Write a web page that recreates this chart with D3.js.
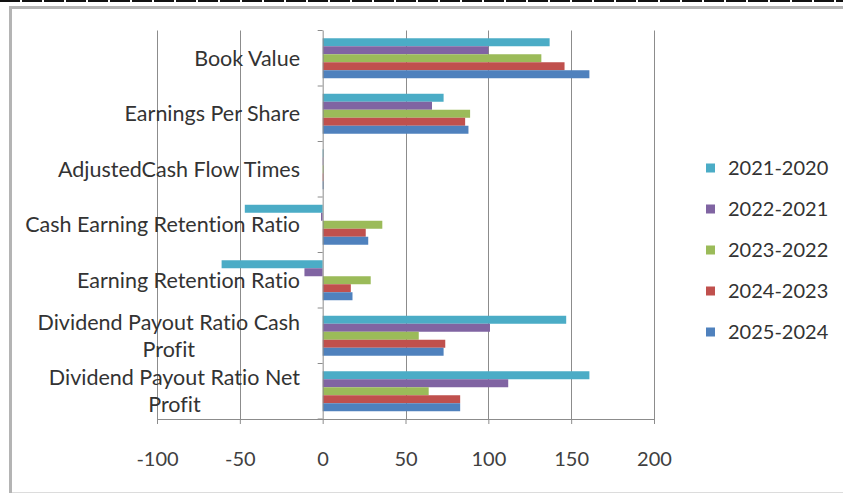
<!DOCTYPE html>
<html>
<head>
<meta charset="utf-8">
<script src="https://cdn.jsdelivr.net/npm/d3@7/dist/d3.min.js"></script>
<style>
  html, body { margin: 0; padding: 0; background: #fff; }
  svg { display: block; }
  text { font-family: Lato, "Open Sans", sans-serif; font-variant-ligatures: none; }
</style>
</head>
<body>
<svg id="chart" width="843" height="493"></svg>
<script>
// Financial ratios, one value per category for each period
const categories = [
  "Book Value",
  "Earnings Per Share",
  "AdjustedCash Flow Times",
  "Cash Earning Retention Ratio",
  "Earning Retention Ratio",
  "Dividend Payout Ratio Cash Profit",
  "Dividend Payout Ratio Net Profit"
];
// Wrapped label lines for the long category names
const labelLines = [
  ["Book Value"],
  ["Earnings Per Share"],
  ["AdjustedCash Flow Times"],
  ["Cash Earning Retention Ratio"],
  ["Earning Retention Ratio"],
  ["Dividend Payout Ratio Cash", "Profit"],
  ["Dividend Payout Ratio Net", "Profit"]
];
const seriesNames = ["2021-2020", "2022-2021", "2023-2022", "2024-2023", "2025-2024"];
const values2021_2020 = [137, 73, 0.5, -47, -61, 147, 161];
const values2022_2021 = [100, 66, 0.4, -1, -11, 101, 112];
const values2023_2022 = [132, 89, 0.6, 36, 29, 58, 64];
const values2024_2023 = [146, 86, 0.5, 26, 17, 74, 83];
const values2025_2024 = [161, 88, 0.6, 27.5, 18, 73, 83];
const seriesValues = [values2021_2020, values2022_2021, values2023_2022, values2024_2023, values2025_2024];
const xTicks = [-100, -50, 0, 50, 100, 150, 200];
const colors = ["#4BACC6", "#8064A2", "#9BBB59", "#C0504D", "#4F81BD"];

const svg = d3.select("#chart");

// page edge rule and chart frame
svg.append("line").attr("x1", 0).attr("x2", 843).attr("y1", 1).attr("y2", 1)
  .attr("stroke", "#111").attr("stroke-width", 2).attr("stroke-dasharray", "20,2");
svg.append("line").attr("x1", 10.5).attr("x2", 10.5).attr("y1", 7).attr("y2", 493)
  .attr("stroke", "#b4b4b4").attr("stroke-width", 3);
svg.append("line").attr("x1", 9).attr("x2", 843).attr("y1", 7.5).attr("y2", 7.5)
  .attr("stroke", "#b4b4b4").attr("stroke-width", 3);
svg.append("line").attr("x1", 12).attr("x2", 843).attr("y1", 492.5).attr("y2", 492.5)
  .attr("stroke", "#dcdcdc").attr("stroke-width", 1);

const x = d3.scaleLinear().domain([-100, 200]).range([157, 654]);
const y0 = d3.scaleBand().domain(categories).range([30.5, 419]).padding(0);
const y1 = d3.scaleBand().domain(seriesNames).range([0, y0.bandwidth()])
  .paddingInner(0).paddingOuter(0.97);

const plotTop = y0.range()[0], plotBottom = y0.range()[1];

// vertical gridlines
svg.append("g").selectAll("line")
  .data(xTicks.filter(d => d !== 0))
  .join("line")
  .attr("x1", d => Math.round(x(d)) + 0.5).attr("x2", d => Math.round(x(d)) + 0.5)
  .attr("y1", plotTop).attr("y2", plotBottom)
  .attr("stroke", "#8c8c8c").attr("stroke-width", 1);

// bars
const groups = svg.append("g").selectAll("g")
  .data(categories)
  .join("g")
  .attr("transform", c => `translate(0,${y0(c)})`);

groups.selectAll("rect")
  .data((c, i) => seriesNames.map((s, k) => ({ s, v: seriesValues[k][i], k })))
  .join("rect")
  .attr("x", d => x(Math.min(0, d.v)))
  .attr("width", d => Math.abs(x(d.v) - x(0)))
  .attr("y", d => y1(d.s))
  .attr("height", y1.bandwidth())
  .attr("fill", d => colors[d.k]);

// bottom value axis (plain hyphen for negatives)
const xAxis = d3.axisBottom(x).tickValues(xTicks).tickSize(5).tickPadding(28)
  .tickFormat(d => String(d));
const gx = svg.append("g").attr("transform", `translate(0,${plotBottom})`).call(xAxis);
gx.select(".domain").attr("stroke", "#8c8c8c");
gx.selectAll(".tick line").attr("stroke", "#8c8c8c");
gx.selectAll(".tick text").attr("font-size", 20).attr("fill", "#404040")
  .style("font-family", "Lato, sans-serif");

// category axis at zero
const yAxisLine = svg.append("g");
yAxisLine.append("line")
  .attr("x1", x(0) + 0.5).attr("x2", x(0) + 0.5).attr("y1", plotTop).attr("y2", plotBottom)
  .attr("stroke", "#8c8c8c");
yAxisLine.selectAll("line.tk")
  .data(d3.range(categories.length + 1))
  .join("line").attr("class", "tk")
  .attr("x1", x(0) - 5).attr("x2", x(0))
  .attr("y1", i => plotTop + i * y0.step()).attr("y2", i => plotTop + i * y0.step())
  .attr("stroke", "#8c8c8c");

// category labels
const labelRight = 300;
const lineH = 27;
categories.forEach((c, i) => {
  const lines = labelLines[i];
  const cy = y0(c) + y0.bandwidth() / 2;
  const t = svg.append("text")
    .attr("font-size", 21.5).attr("fill", "#333")
    .attr("text-anchor", "end");
  lines.forEach((ln, j) => {
    t.append("tspan").attr("x", labelRight)
      .attr("y", cy + (j - (lines.length - 1) / 2) * lineH)
      .attr("dy", "0.35em").text(ln);
  });
  if (lines.length > 1) {
    // center each line within the block, block right aligned
    const widths = t.selectAll("tspan").nodes().map(n => n.getComputedTextLength());
    const w = Math.max(...widths);
    t.attr("text-anchor", "middle");
    t.selectAll("tspan").attr("x", labelRight - w / 2);
  }
});

// legend
const legendY = [168, 209, 250, 291, 332];
const legend = svg.append("g").selectAll("g")
  .data(seriesNames)
  .join("g")
  .attr("transform", (d, i) => `translate(706,${legendY[i]})`);
legend.append("rect").attr("x", 0).attr("y", -4.5).attr("width", 9).attr("height", 9)
  .attr("fill", (d, i) => colors[i]);
legend.append("text").attr("x", 22).attr("dy", "0.35em")
  .attr("font-size", 20).attr("fill", "#333").text(d => d);
</script>
</body>
</html>
